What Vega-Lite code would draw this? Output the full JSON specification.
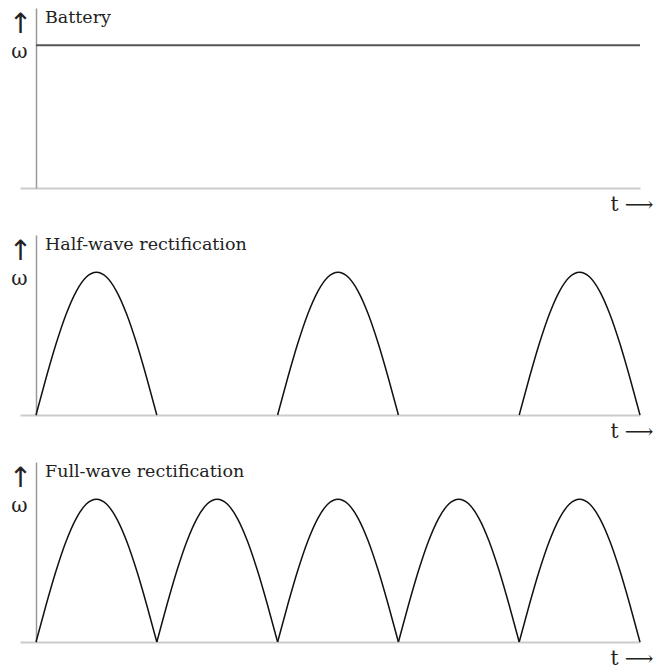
{
  "$schema": "https://vega.github.io/schema/vega-lite/v6.json",
  "padding": {"top": 8, "left": 8, "right": 0, "bottom": 0},
  "background": "white",
  "spacing": 47,
  "bounds": "flush",
  "config": {
    "view": {"stroke": null},
    "font": "DejaVu Serif",
    "axisX": {"domain": true, "domainColor": "#ccc", "domainWidth": 2, "ticks": false, "labels": false, "grid": false, "titleFont": "DejaVu Serif", "titleFontWeight": "normal", "titleFontSize": 20, "titleColor": "#222", "titleAlign": "right", "titleAnchor": "start", "titleX": 633, "titleY": 22, "titleBaseline": "alphabetic"},
    "axisY": {"domain": true, "domainColor": "#999", "domainWidth": 1.5, "ticks": false, "tickSize": 0, "grid": false, "labelFont": "DejaVu Serif", "labelFontSize": 20, "labelColor": "#222", "labelPadding": 9, "labelOffset": 6, "titleAngle": 0, "titleFont": "DejaVu Sans", "titleFontWeight": "normal", "titleFontSize": 28, "titleColor": "#222", "titleAlign": "center", "titleBaseline": "top", "titleX": -16, "titleY": 2},
    "text": {"align": "left", "baseline": "alphabetic", "dx": 9, "dy": -22, "fontSize": 17.5, "font": "DejaVu Serif", "color": "#222"}
  },
  "datasets": {
    "battery": [{"t": 0, "w": 1}, {"t": 5, "w": 1}],
    "half": [
      {"hump": 0, "t": 0, "w": 0}, {"hump": 0, "t": 0.0833, "w": 0.2588}, {"hump": 0, "t": 0.1667, "w": 0.5}, {"hump": 0, "t": 0.25, "w": 0.7071}, {"hump": 0, "t": 0.3333, "w": 0.866}, {"hump": 0, "t": 0.4167, "w": 0.9659}, {"hump": 0, "t": 0.5, "w": 1}, {"hump": 0, "t": 0.5833, "w": 0.9659}, {"hump": 0, "t": 0.6667, "w": 0.866}, {"hump": 0, "t": 0.75, "w": 0.7071}, {"hump": 0, "t": 0.8333, "w": 0.5}, {"hump": 0, "t": 0.9167, "w": 0.2588}, {"hump": 0, "t": 1, "w": 0},
      {"hump": 2, "t": 2, "w": 0}, {"hump": 2, "t": 2.0833, "w": 0.2588}, {"hump": 2, "t": 2.1667, "w": 0.5}, {"hump": 2, "t": 2.25, "w": 0.7071}, {"hump": 2, "t": 2.3333, "w": 0.866}, {"hump": 2, "t": 2.4167, "w": 0.9659}, {"hump": 2, "t": 2.5, "w": 1}, {"hump": 2, "t": 2.5833, "w": 0.9659}, {"hump": 2, "t": 2.6667, "w": 0.866}, {"hump": 2, "t": 2.75, "w": 0.7071}, {"hump": 2, "t": 2.8333, "w": 0.5}, {"hump": 2, "t": 2.9167, "w": 0.2588}, {"hump": 2, "t": 3, "w": 0},
      {"hump": 4, "t": 4, "w": 0}, {"hump": 4, "t": 4.0833, "w": 0.2588}, {"hump": 4, "t": 4.1667, "w": 0.5}, {"hump": 4, "t": 4.25, "w": 0.7071}, {"hump": 4, "t": 4.3333, "w": 0.866}, {"hump": 4, "t": 4.4167, "w": 0.9659}, {"hump": 4, "t": 4.5, "w": 1}, {"hump": 4, "t": 4.5833, "w": 0.9659}, {"hump": 4, "t": 4.6667, "w": 0.866}, {"hump": 4, "t": 4.75, "w": 0.7071}, {"hump": 4, "t": 4.8333, "w": 0.5}, {"hump": 4, "t": 4.9167, "w": 0.2588}, {"hump": 4, "t": 5, "w": 0}
    ],
    "full": [
      {"hump": 0, "t": 0, "w": 0}, {"hump": 0, "t": 0.0833, "w": 0.2588}, {"hump": 0, "t": 0.1667, "w": 0.5}, {"hump": 0, "t": 0.25, "w": 0.7071}, {"hump": 0, "t": 0.3333, "w": 0.866}, {"hump": 0, "t": 0.4167, "w": 0.9659}, {"hump": 0, "t": 0.5, "w": 1}, {"hump": 0, "t": 0.5833, "w": 0.9659}, {"hump": 0, "t": 0.6667, "w": 0.866}, {"hump": 0, "t": 0.75, "w": 0.7071}, {"hump": 0, "t": 0.8333, "w": 0.5}, {"hump": 0, "t": 0.9167, "w": 0.2588}, {"hump": 0, "t": 1, "w": 0},
      {"hump": 1, "t": 1, "w": 0}, {"hump": 1, "t": 1.0833, "w": 0.2588}, {"hump": 1, "t": 1.1667, "w": 0.5}, {"hump": 1, "t": 1.25, "w": 0.7071}, {"hump": 1, "t": 1.3333, "w": 0.866}, {"hump": 1, "t": 1.4167, "w": 0.9659}, {"hump": 1, "t": 1.5, "w": 1}, {"hump": 1, "t": 1.5833, "w": 0.9659}, {"hump": 1, "t": 1.6667, "w": 0.866}, {"hump": 1, "t": 1.75, "w": 0.7071}, {"hump": 1, "t": 1.8333, "w": 0.5}, {"hump": 1, "t": 1.9167, "w": 0.2588}, {"hump": 1, "t": 2, "w": 0},
      {"hump": 2, "t": 2, "w": 0}, {"hump": 2, "t": 2.0833, "w": 0.2588}, {"hump": 2, "t": 2.1667, "w": 0.5}, {"hump": 2, "t": 2.25, "w": 0.7071}, {"hump": 2, "t": 2.3333, "w": 0.866}, {"hump": 2, "t": 2.4167, "w": 0.9659}, {"hump": 2, "t": 2.5, "w": 1}, {"hump": 2, "t": 2.5833, "w": 0.9659}, {"hump": 2, "t": 2.6667, "w": 0.866}, {"hump": 2, "t": 2.75, "w": 0.7071}, {"hump": 2, "t": 2.8333, "w": 0.5}, {"hump": 2, "t": 2.9167, "w": 0.2588}, {"hump": 2, "t": 3, "w": 0},
      {"hump": 3, "t": 3, "w": 0}, {"hump": 3, "t": 3.0833, "w": 0.2588}, {"hump": 3, "t": 3.1667, "w": 0.5}, {"hump": 3, "t": 3.25, "w": 0.7071}, {"hump": 3, "t": 3.3333, "w": 0.866}, {"hump": 3, "t": 3.4167, "w": 0.9659}, {"hump": 3, "t": 3.5, "w": 1}, {"hump": 3, "t": 3.5833, "w": 0.9659}, {"hump": 3, "t": 3.6667, "w": 0.866}, {"hump": 3, "t": 3.75, "w": 0.7071}, {"hump": 3, "t": 3.8333, "w": 0.5}, {"hump": 3, "t": 3.9167, "w": 0.2588}, {"hump": 3, "t": 4, "w": 0},
      {"hump": 4, "t": 4, "w": 0}, {"hump": 4, "t": 4.0833, "w": 0.2588}, {"hump": 4, "t": 4.1667, "w": 0.5}, {"hump": 4, "t": 4.25, "w": 0.7071}, {"hump": 4, "t": 4.3333, "w": 0.866}, {"hump": 4, "t": 4.4167, "w": 0.9659}, {"hump": 4, "t": 4.5, "w": 1}, {"hump": 4, "t": 4.5833, "w": 0.9659}, {"hump": 4, "t": 4.6667, "w": 0.866}, {"hump": 4, "t": 4.75, "w": 0.7071}, {"hump": 4, "t": 4.8333, "w": 0.5}, {"hump": 4, "t": 4.9167, "w": 0.2588}, {"hump": 4, "t": 5, "w": 0}
    ]
  },
  "vconcat": [
    {
      "width": 620, "height": 180,
      "encoding": {
        "x": {"field": "t", "type": "quantitative", "scale": {"domain": [-0.1325, 5], "nice": false, "zero": false}, "axis": {"title": "t ⟶"}},
        "y": {"field": "w", "type": "quantitative", "scale": {"domain": [0, 1.26], "nice": false}, "axis": {"values": [1], "labelExpr": "'ω'", "title": "↑", "offset": -16}}
      },
      "layer": [
        {"data": {"name": "battery"}, "mark": {"type": "line", "color": "#555", "strokeWidth": 2}},
        {"data": {"name": "battery"}, "mark": {"type": "text", "text": "Battery"}, "encoding": {"x": {"aggregate": "min", "field": "t", "type": "quantitative"}, "y": {"aggregate": "max", "field": "w", "type": "quantitative"}}}
      ]
    },
    {
      "width": 620, "height": 180,
      "encoding": {
        "x": {"field": "t", "type": "quantitative", "scale": {"domain": [-0.1325, 5], "nice": false, "zero": false}, "axis": {"title": "t ⟶"}},
        "y": {"field": "w", "type": "quantitative", "scale": {"domain": [0, 1.26], "nice": false}, "axis": {"values": [1], "labelExpr": "'ω'", "title": "↑", "offset": -16}}
      },
      "layer": [
        {"data": {"name": "half"}, "mark": {"type": "line", "color": "#111", "strokeWidth": 1.5, "interpolate": "monotone"}, "encoding": {"detail": {"field": "hump", "type": "nominal"}}},
        {"data": {"name": "half"}, "mark": {"type": "text", "text": "Half-wave rectification"}, "encoding": {"x": {"aggregate": "min", "field": "t", "type": "quantitative"}, "y": {"aggregate": "max", "field": "w", "type": "quantitative"}}}
      ]
    },
    {
      "width": 620, "height": 180,
      "encoding": {
        "x": {"field": "t", "type": "quantitative", "scale": {"domain": [-0.1325, 5], "nice": false, "zero": false}, "axis": {"title": "t ⟶"}},
        "y": {"field": "w", "type": "quantitative", "scale": {"domain": [0, 1.26], "nice": false}, "axis": {"values": [1], "labelExpr": "'ω'", "title": "↑", "offset": -16}}
      },
      "layer": [
        {"data": {"name": "full"}, "mark": {"type": "line", "color": "#111", "strokeWidth": 1.5, "interpolate": "monotone"}, "encoding": {"detail": {"field": "hump", "type": "nominal"}}},
        {"data": {"name": "full"}, "mark": {"type": "text", "text": "Full-wave rectification"}, "encoding": {"x": {"aggregate": "min", "field": "t", "type": "quantitative"}, "y": {"aggregate": "max", "field": "w", "type": "quantitative"}}}
      ]
    }
  ]
}
